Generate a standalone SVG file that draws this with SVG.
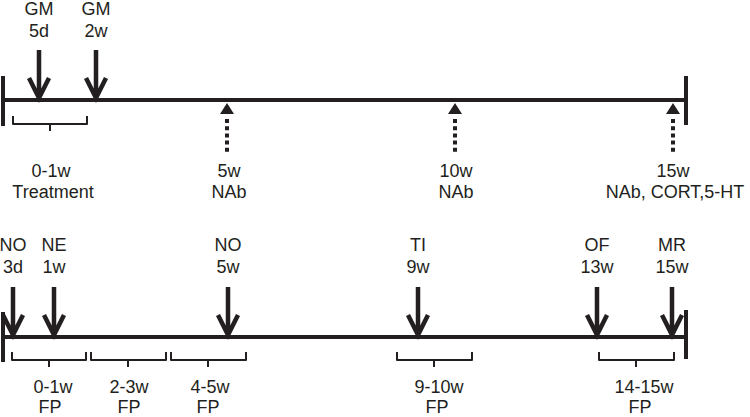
<svg xmlns="http://www.w3.org/2000/svg" xmlns:xlink="http://www.w3.org/1999/xlink" width="750" height="417" viewBox="0 0 750 417">
<style>
text{font-family:"Liberation Sans",Arial,sans-serif;font-size:18px;fill:#231f20;text-anchor:middle}
.axis{stroke:#231f20;stroke-width:4;fill:none}
.brace{stroke:#231f20;stroke-width:2;fill:none;stroke-linejoin:round}
.arr{stroke:#231f20;stroke-width:4.5;fill:none;stroke-linejoin:miter}
.dot{stroke:#231f20;stroke-width:4;stroke-dasharray:4,3.2;fill:none}
.tri{fill:#231f20}
</style>
<defs>
<g id="down"><path class="arr" d="M0,-50V-3M-10,-22L0,-2L10,-22"/></g>
<g id="up"><path class="tri" d="M0,0L7,11H-7Z"/><path class="dot" d="M0,16V49"/></g>
</defs>
<g id="axes">
<path class="axis" d="M3,100H686M3,76V126M686,76V125"/>
<path class="axis" d="M3,337H686M3,312V362M686,310V359"/>
</g>
<g id="connectors">
<use xlink:href="#down" x="39" y="100"/>
<use xlink:href="#down" x="96" y="100"/>
<use xlink:href="#up" x="227" y="103"/>
<use xlink:href="#up" x="455" y="103"/>
<use xlink:href="#up" x="673" y="103"/>
<use xlink:href="#down" x="13" y="337"/>
<use xlink:href="#down" x="54" y="337"/>
<use xlink:href="#down" x="228" y="337"/>
<use xlink:href="#down" x="418" y="337"/>
<use xlink:href="#down" x="597" y="337"/>
<use xlink:href="#down" x="672" y="337"/>
</g>
<g id="braces">
<path class="brace" d="M13,116V124H87V116M50,124V131"/>
<path class="brace" d="M12,352V360H86V352M49,360V367"/>
<path class="brace" d="M91,352V360H166V352M128,360V367"/>
<path class="brace" d="M171,352V360H246V352M208,360V367"/>
<path class="brace" d="M397,352V360H472V352M434,360V367"/>
<path class="brace" d="M599,352V360H674V352M636,360V367"/>
</g>
<g id="n-gm5d"><text x="39" y="15">GM</text><text x="39" y="37">5d</text></g>
<g id="n-gm2w"><text x="96" y="15">GM</text><text x="96" y="37">2w</text></g>
<g id="n-treatment"><text x="51" y="177">0-1w</text><text x="53" y="198">Treatment</text></g>
<g id="n-nab5"><text x="229" y="177">5w</text><text x="229" y="198">NAb</text></g>
<g id="n-nab10"><text x="456" y="177">10w</text><text x="456" y="198">NAb</text></g>
<g id="n-nab15"><text x="673" y="177">15w</text><text x="675" y="198">NAb, CORT,5-HT</text></g>
<g id="n-no3d"><text x="13" y="251">NO</text><text x="13" y="273">3d</text></g>
<g id="n-ne1w"><text x="54" y="251">NE</text><text x="54" y="273">1w</text></g>
<g id="n-no5w"><text x="228" y="251">NO</text><text x="228" y="273">5w</text></g>
<g id="n-ti9w"><text x="418" y="251">TI</text><text x="418" y="273">9w</text></g>
<g id="n-of13w"><text x="597" y="251">OF</text><text x="597" y="273">13w</text></g>
<g id="n-mr15w"><text x="672" y="251">MR</text><text x="672" y="273">15w</text></g>
<g id="n-fp01"><text x="53" y="393">0-1w</text><text x="50" y="413">FP</text></g>
<g id="n-fp23"><text x="129" y="393">2-3w</text><text x="129" y="413">FP</text></g>
<g id="n-fp45"><text x="210" y="393">4-5w</text><text x="208" y="413">FP</text></g>
<g id="n-fp910"><text x="439" y="393">9-10w</text><text x="437" y="413">FP</text></g>
<g id="n-fp1415"><text x="644" y="393">14-15w</text><text x="640" y="413">FP</text></g>
</svg>
